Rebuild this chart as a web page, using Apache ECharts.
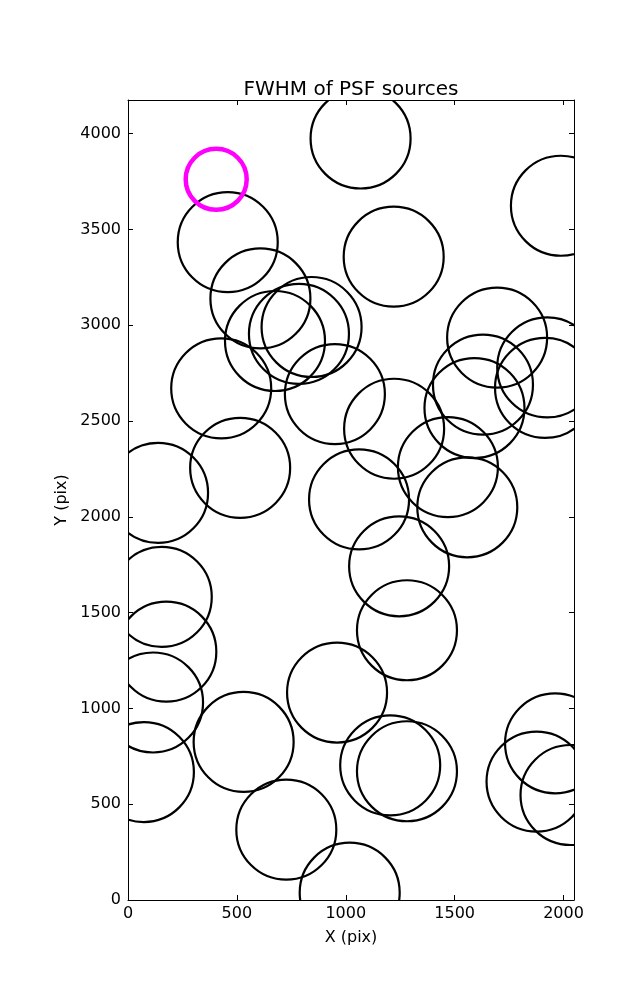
<!DOCTYPE html>
<html>
<head>
<meta charset="utf-8">
<script src="https://cdn.jsdelivr.net/npm/echarts@6/dist/echarts.min.js"></script>
<style>
html,body{margin:0;padding:0;background:#fff;}
#chart{width:637px;height:1000px;}
</style>
</head>
<body>
<div id="chart"></div>
<script>
// Source positions (pixel coordinates on the detector)
const blackX = [1068, 1988, 458, 1220, 608, 843, 785, 675, 1695, 1925, 1915, 1630, 1591, 428, 950, 1222, 138, 515, 1061, 1469, 1558, 1245, 155, 176, 1281, 115, 960, 1961, 531, 1204, 1281, 73, 1876, 2032, 727, 1018];
const blackY = [3975, 3624, 3434, 3358, 3140, 2991, 2955, 2918, 2936, 2780, 2673, 2690, 2568, 2671, 2641, 2460, 2125, 2256, 2091, 2260, 2050, 1742, 1582, 1296, 1408, 1031, 1083, 818, 825, 703, 672, 668, 618, 548, 367, 38];
const magentaX = [405];
const magentaY = [3762];
const xTicks = [0, 500, 1000, 1500, 2000];
const yTicks = [0, 500, 1000, 1500, 2000, 2500, 3000, 3500, 4000];
const xMax = 2048;
const yMax = 4176;

const FONT = 'DejaVu Sans';
const chart = echarts.init(document.getElementById('chart'), null, {renderer: 'canvas'});

function pairs(xs, ys) { return xs.map((x, i) => [x, ys[i]]); }

function circleRenderer(r, color, lw) {
  return function (params, api) {
    const p = api.coord([api.value(0), api.value(1)]);
    return {
      type: 'circle',
      shape: {cx: p[0], cy: p[1], r: r},
      style: {fill: 'none', stroke: color, lineWidth: lw}
    };
  };
}

const plain = v => String(v);

const axisCommon = {
  type: 'value',
  axisLine: {show: true, onZero: false, lineStyle: {color: '#000', width: 1}},
  splitLine: {show: false},
};

chart.setOption({
  animation: false,
  backgroundColor: '#fff',
  title: {
    text: 'FWHM of PSF sources',
    left: 346,
    top: 75,
    textAlign: 'center',
    textStyle: {fontFamily: FONT, fontSize: 20, fontWeight: 'normal', color: '#000'}
  },
  grid: {left: 128, top: 100, width: 446, height: 800, containLabel: false},
  xAxis: [
    Object.assign({}, axisCommon, {
      position: 'bottom', min: 0, max: xMax,
      name: 'X (pix)', nameLocation: 'middle', nameGap: 30,
      nameTextStyle: {fontFamily: FONT, fontSize: 16, color: '#000'},
      axisTick: {show: true, inside: true, length: 5, customValues: xTicks, lineStyle: {color: '#000'}},
      axisLabel: {show: true, customValues: xTicks, formatter: plain, margin: 6, fontFamily: FONT, fontSize: 16, color: '#000'}
    }),
    Object.assign({}, axisCommon, {
      position: 'top', min: 0, max: xMax,
      axisTick: {show: true, inside: true, length: 5, customValues: xTicks, lineStyle: {color: '#000'}},
      axisLabel: {show: false}
    })
  ],
  yAxis: [
    Object.assign({}, axisCommon, {
      position: 'left', min: 0, max: yMax,
      name: 'Y (pix)', nameLocation: 'middle', nameGap: 50,
      nameTextStyle: {fontFamily: FONT, fontSize: 16, color: '#000'},
      axisTick: {show: true, inside: true, length: 5, customValues: yTicks, lineStyle: {color: '#000'}},
      axisLabel: {show: true, customValues: yTicks, formatter: plain, margin: 7, fontFamily: FONT, fontSize: 16, color: '#000'}
    }),
    Object.assign({}, axisCommon, {
      position: 'right', min: 0, max: yMax,
      axisTick: {show: true, inside: true, length: 5, customValues: yTicks, lineStyle: {color: '#000'}},
      axisLabel: {show: false}
    })
  ],
  series: [
    {
      type: 'custom', name: 'sources', xAxisIndex: 0, yAxisIndex: 0, clip: true,
      renderItem: circleRenderer(50, '#000', 2.2),
      data: pairs(blackX, blackY)
    },
    {
      type: 'custom', name: 'target', xAxisIndex: 0, yAxisIndex: 0, clip: true,
      renderItem: circleRenderer(30.5, '#ff00ff', 4.5),
      data: pairs(magentaX, magentaY)
    }
  ]
});
</script>
</body>
</html>
